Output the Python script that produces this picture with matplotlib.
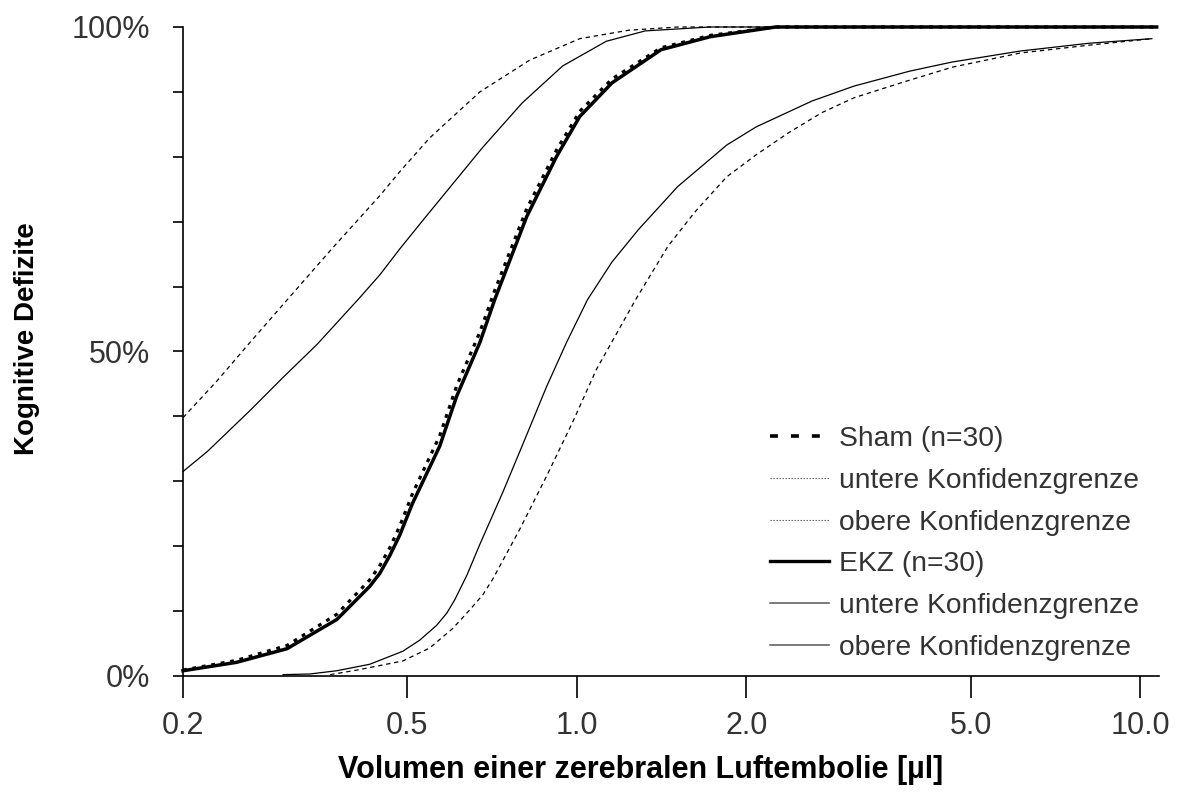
import matplotlib.pyplot as plt
from matplotlib.lines import Line2D
from matplotlib.ticker import NullLocator

plt.rcParams['font.family'] = ['Liberation Sans', 'DejaVu Sans']

# volume of air embolism [µl] vs. share with cognitive deficits
ekz_x = [0.2, 0.249, 0.306, 0.375, 0.429, 0.447, 0.466, 0.485, 0.511, 0.571, 0.612, 0.673,
         0.715, 0.815, 0.92, 1.012, 1.155, 1.411, 1.724, 2.254, 10.7]
ekz_y = [0.008, 0.021, 0.042, 0.087, 0.138, 0.158, 0.186, 0.217, 0.266, 0.354, 0.431, 0.514,
         0.58, 0.708, 0.80, 0.862, 0.914, 0.965, 0.985, 1.0, 1.0]

sham_x = ekz_x
sham_y = [0.009, 0.024, 0.047, 0.095, 0.148, 0.17, 0.198, 0.231, 0.281, 0.37, 0.447, 0.53,
          0.594, 0.72, 0.81, 0.87, 0.92, 0.968, 0.987, 1.0, 1.0]

# EKZ confidence limits (thin solid)
ekz_lo_x = [0.2, 0.221, 0.263, 0.301, 0.346, 0.409, 0.447, 0.485, 0.533, 0.602, 0.68, 0.80,
            0.944, 1.128, 1.323, 1.724, 10.7]
ekz_lo_y = [0.315, 0.346, 0.409, 0.46, 0.511, 0.58, 0.618, 0.658, 0.702, 0.758, 0.814, 0.883,
            0.94, 0.978, 0.994, 1.0, 1.0]
ekz_hi_x = [0.301, 0.336, 0.375, 0.429, 0.491, 0.526, 0.564, 0.588, 0.607, 0.638, 0.673, 0.739,
            0.802, 0.884, 0.959, 1.045, 1.155, 1.287, 1.51, 1.845, 2.081, 2.616, 3.107, 3.90,
            4.636, 6.13, 8.12, 10.49]
ekz_hi_y = [0.002, 0.003, 0.008, 0.018, 0.038, 0.055, 0.078, 0.097, 0.117, 0.155, 0.203, 0.283,
            0.357, 0.446, 0.514, 0.58, 0.638, 0.688, 0.754, 0.818, 0.846, 0.886, 0.909, 0.932,
            0.946, 0.963, 0.975, 0.982]

# Sham confidence limits (thin dashed)
sham_lo_x = [0.2, 0.23, 0.263, 0.31, 0.369, 0.447, 0.485, 0.548, 0.673, 0.825, 1.012,
             1.236, 1.51, 10.7]
sham_lo_y = [0.398, 0.455, 0.514, 0.585, 0.66, 0.74, 0.777, 0.829, 0.90, 0.949, 0.982,
             0.995, 1.0, 1.0]
sham_hi_x = [0.365, 0.407, 0.491, 0.548, 0.602, 0.646, 0.681, 0.709, 0.792, 0.884, 0.983,
             1.083, 1.272, 1.451, 1.617, 1.845, 2.081, 2.376, 2.722, 3.107, 3.795, 4.636,
             6.13, 8.12, 10.49]
sham_hi_y = [0.002, 0.009, 0.023, 0.043, 0.073, 0.102, 0.125, 0.149, 0.226, 0.308, 0.391,
             0.472, 0.58, 0.662, 0.714, 0.769, 0.803, 0.837, 0.868, 0.891, 0.915, 0.938,
             0.96, 0.972, 0.982]

x_ticks = [0.2, 0.5, 1.0, 2.0, 5.0, 10.0]
x_labels = ['0.2', '0.5', '1.0', '2.0', '5.0', '10.0']
y_ticks = [0.0, 0.1, 0.2, 0.3, 0.4, 0.5, 0.6, 0.7, 0.8, 0.9, 1.0]
y_labels = ['0%', '', '', '', '', '50%', '', '', '', '', '100%']

fig = plt.figure(figsize=(11.77, 7.94), dpi=100)
ax = fig.add_axes([0.1555, 0.1487, 0.8292, 0.8173])

thin_dash = (0, (3.5, 3.0))
ax.plot(sham_lo_x, sham_lo_y, color='black', lw=0.9, ls=thin_dash, clip_on=False)
ax.plot(sham_hi_x, sham_hi_y, color='black', lw=0.9, ls=thin_dash, clip_on=False)
ax.plot(ekz_lo_x, ekz_lo_y, color='black', lw=0.9, clip_on=False)
ax.plot(ekz_hi_x, ekz_hi_y, color='black', lw=0.9, clip_on=False)
ax.plot(ekz_x, ekz_y, color='black', lw=2.5, clip_on=False)
ax.plot(sham_x, sham_y, color='black', lw=2.3, ls=(0, (1.2, 1.8)), clip_on=False)

ax.set_xscale('log')
ax.set_xlim(0.2, 10.8)
ax.set_ylim(0, 1)
ax.set_xticks(x_ticks)
ax.set_xticklabels(x_labels)
ax.xaxis.set_minor_locator(NullLocator())
ax.set_yticks(y_ticks)
ax.set_yticklabels(y_labels)

for s in ['top', 'right']:
    ax.spines[s].set_visible(False)
for s in ['left', 'bottom']:
    ax.spines[s].set_linewidth(1.2)
ax.tick_params(axis='x', length=16, width=1.2, pad=9, labelsize=22, labelcolor='#333333')
ax.tick_params(axis='y', length=7, width=1.2, pad=17, labelsize=22, labelcolor='#333333')

fig.text(0.544, 0.030, 'Volumen einer zerebralen Luftembolie [µl]', ha='center', va='center',
         fontsize=22, fontweight='bold')
fig.text(0.023, 0.574, 'Kognitive Defizite', ha='center', va='center', rotation=90,
         fontsize=20, fontweight='bold')

handles = [
    Line2D([], [], color='black', lw=2.6, ls=(0, (2.2, 3.6))),
    Line2D([], [], color='#555555', lw=0.8, ls=(0, (1.2, 1.5))),
    Line2D([], [], color='#555555', lw=0.8, ls=(0, (1.2, 1.5))),
    Line2D([], [], color='black', lw=2.4),
    Line2D([], [], color='#555555', lw=1.1),
    Line2D([], [], color='#555555', lw=1.1),
]
labels = ['Sham (n=30)', 'untere Konfidenzgrenze', 'obere Konfidenzgrenze',
          'EKZ (n=30)', 'untere Konfidenzgrenze', 'obere Konfidenzgrenze']
leg = ax.legend(handles, labels, loc='upper left', bbox_to_anchor=(0.654, 0.4635),
                bbox_transform=fig.transFigure, frameon=False, fontsize=20.3,
                handlelength=2.1, handletextpad=0.35, labelspacing=0.56,
                borderpad=0, borderaxespad=0)
for t in leg.get_texts():
    t.set_color('#333333')

fig.savefig('out.png', dpi=100)
